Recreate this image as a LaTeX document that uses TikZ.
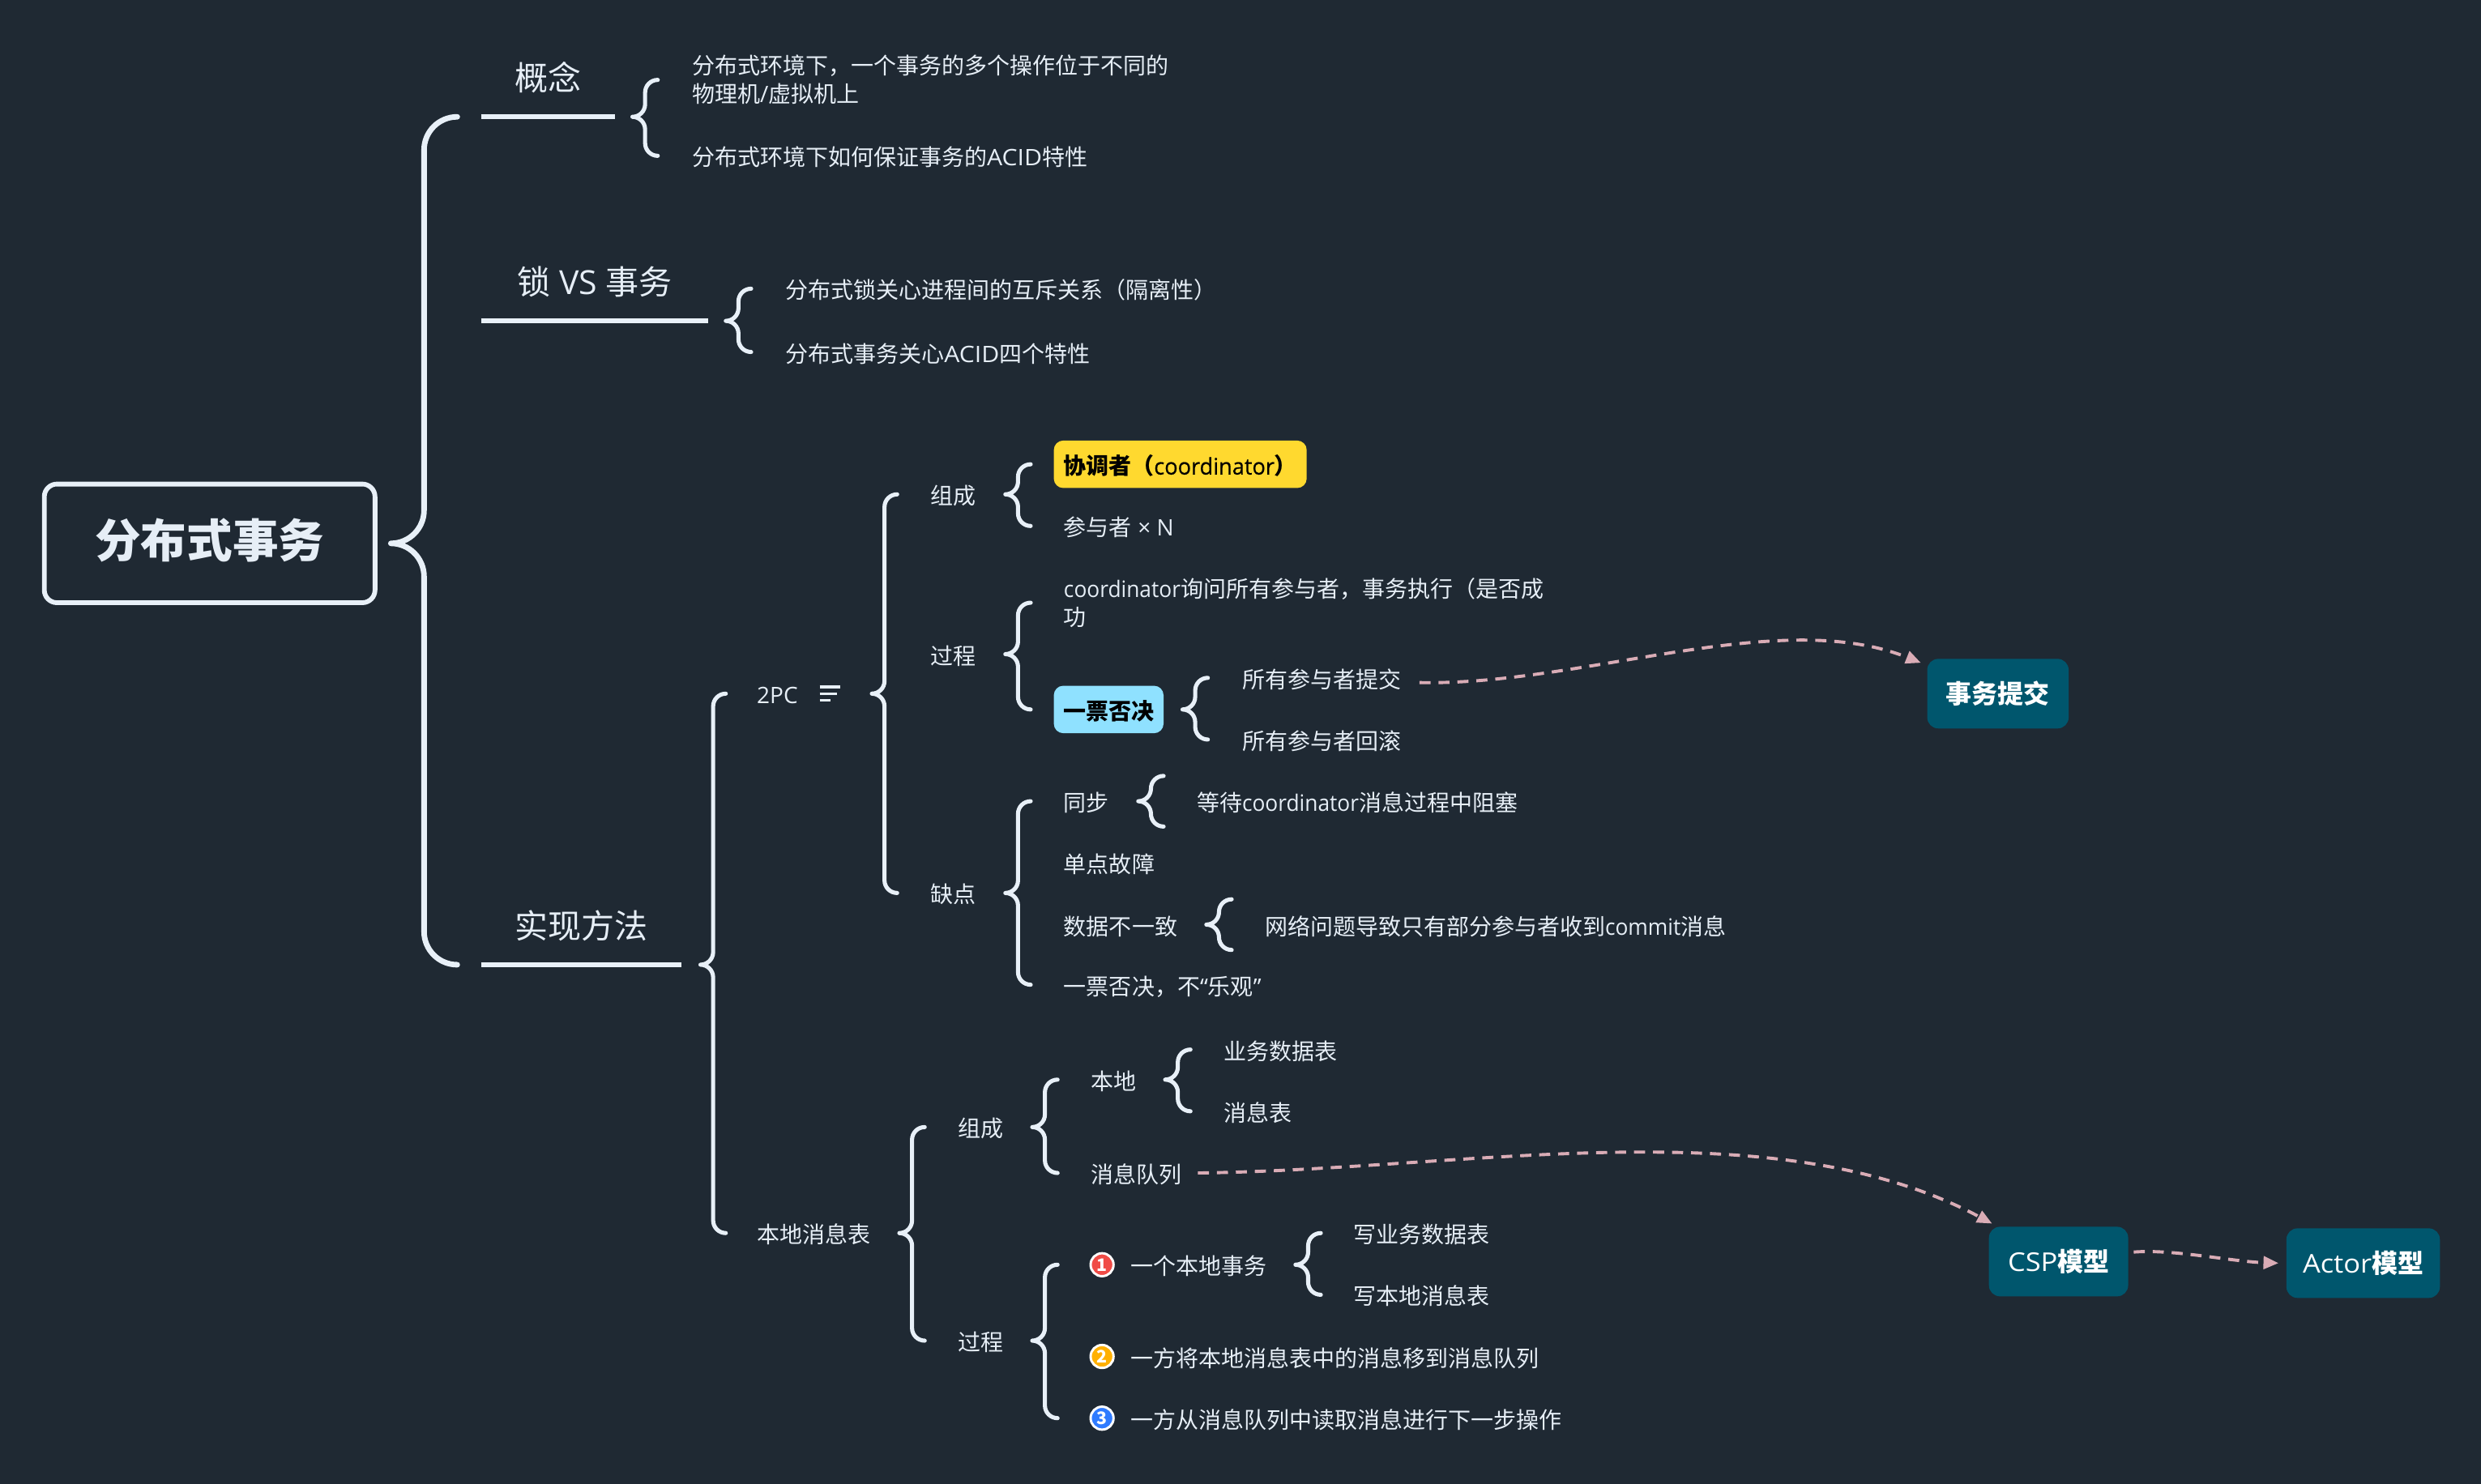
\documentclass[tikz,border=0pt]{standalone}
\usepackage{fontspec}
\usepackage{tikz}
\usetikzlibrary{arrows.meta,positioning,calc}
\setmainfont{Noto Sans CJK SC}
\newfontfamily\latinfont{Open Sans}
\newfontfamily\narrowfont[FakeStretch=0.94]{Open Sans}
\newfontfamily\wideinfont[FakeStretch=1.08]{Open Sans}
\newfontfamily\tagfont[FakeStretch=0.97,FakeBold=0.4]{Open Sans}
\newcommand{\lat}[1]{{\latinfont\mdseries #1}}
\newcommand{\latn}[1]{{\narrowfont\mdseries #1}}
\newcommand{\latw}[1]{{\wideinfont\mdseries #1}}
\definecolor{canvas}{HTML}{1F2933}
\definecolor{lightline}{HTML}{E8F0F8}
\definecolor{lighttext}{HTML}{E6EEF6}
\definecolor{tagyellow}{HTML}{FFD92F}
\definecolor{tagblue}{HTML}{8FE1FF}
\definecolor{modelteal}{HTML}{00566D}
\definecolor{linkpink}{HTML}{D9ACB6}
\definecolor{numred}{HTML}{F04B46}
\definecolor{numorange}{HTML}{FFB000}
\definecolor{numblue}{HTML}{2F7BFF}
\newcommand{\treebrace}[5][]{%
	\draw[bracelink,#1] let \p1=#3,\p2=#4,\p3=#5,\n1={#2*1cm},\n2={#2*0.5cm} in
	({\x1+\n1},\y2) to[out=180,in=90] ({\x1+\n2},{\y2-\n2}) -- ({\x1+\n2},{\y1+\n2})
	to[out=-90,in=0] (\x1,\y1) to[out=0,in=90] ({\x1+\n2},{\y1-\n2}) -- ({\x1+\n2},{\y3+\n2})
	to[out=-90,in=180] ({\x1+\n1},\y3);}
\begin{document}
\begin{tikzpicture}[
			rootbox/.style={draw=lightline,line width=0.06cm,rounded corners=0.16cm,outer sep=0pt,minimum width=4.18cm,minimum height=1.5cm,text=lighttext,text height=0.48cm,text depth=0.11cm,font=\fontsize{16.5}{20}\selectfont\bfseries},
			topic/.style={inner ysep=0pt,inner xsep=0.42cm,minimum height=1.0cm,text height=0.41cm,text depth=0.06cm,text=lighttext,font=\fontsize{11.95}{14}\selectfont},
			topicline/.style={line width=0.06cm,lightline},
			leaf/.style={inner sep=0pt,text height=0.293cm,text depth=0.035cm,text=lighttext,font=\fontsize{8.16}{10.24}\selectfont},
			twolines/.style={align=left,text height=,text depth=},
			tagbox/.style={leaf,text=black,rounded corners=0.12cm,inner xsep=0.12cm,minimum height=0.6cm,outer sep=0pt,font=\fontsize{8.16}{10.24}\selectfont\bfseries},
			modelbox/.style={fill=modelteal,rounded corners=0.14cm,inner ysep=0pt,inner xsep=0.24cm,minimum height=0.88cm,outer sep=0pt,text=white,font=\fontsize{9.3}{11}\selectfont\bfseries},
			numdot/.style={circle,draw=white,line width=0.03cm,minimum size=0.29cm,inner sep=0pt,outer sep=0.015cm,text=white,font=\fontsize{6.2}{7}\selectfont\bfseries},
			bracelink/.style={line width=0.052cm,lightline,line cap=round,line join=round},
			bigbrace/.style={line width=0.07cm},
			iconline/.style={line width=0.035cm,lightline},
			linkarr/.style={-{Triangle[length=0.19cm,width=0.16cm]},line width=0.04cm,linkpink,dash pattern=on 0.14cm off 0.10cm}
			]
			\fill[canvas,use as bounding box] (0,0) rectangle (31.36,-18.76);
			\node[rootbox] (root) at (2.65,-6.87) {分布式事务};
			% first level
			\node[topic] (gn) [right=5.52cm of root.west,yshift=5.9cm] {概念};
			\node[topic,minimum width=2.86cm] (ss) [right=5.52cm of root.west,yshift=3.32cm] {锁\lat{ VS }事务};
			\node[topic] (sx) [right=5.52cm of root.west,yshift=-4.82cm] {实现方法};
			\draw[topicline] (gn.south west) -- (gn.south east);
			\draw[topicline] (ss.south west) -- (ss.south east);
			\draw[topicline] (sx.south west) -- (sx.south east);
			\treebrace[bigbrace]{.84}{([xshift=.2cm]root.east)}{(gn.south west)}{(sx.south west)}
			% concept and lock
			\node[leaf,twolines] (gn1) [right=2.66cm of gn.west,yshift=-0.04cm] {分布式环境下，一个事务的多个操作位于不同的\\物理机\lat{/}虚拟机上};
			\node[leaf] (gn2) [right=2.66cm of gn.west,yshift=-1cm] {分布式环境下如何保证事务的\latw{ACID}特性};
			\treebrace{.32}{([xshift=.22cm]gn.south east)}{(gn1.west)}{(gn2.west)}
			\node[leaf] (ss1) [right=3.84cm of ss.west,yshift=-0.1cm] {分布式锁关心进程间的互斥关系（隔离性）};
			\node[leaf] (ss2) [right=3.84cm of ss.west,yshift=-0.9cm] {分布式事务关心\latw{ACID}四个特性};
			\treebrace{.32}{([xshift=.22cm]ss.south east)}{(ss1.west)}{(ss2.west)}
			% two methods
			\node[leaf] (pc) [right=3.48cm of sx.west,yshift=2.92cm] {\lat{2PC}};
			\node[leaf] (bd) [right=3.48cm of sx.west,yshift=-3.9cm] {本地消息表};
			\treebrace{.32}{([xshift=.24cm]sx.south east)}{(pc.west)}{(bd.west)}
			\coordinate (pcicon) at ([xshift=0.8cm]pc.west);
			\coordinate (pcend) at ([xshift=1.06cm]pc.west);
			\foreach \i/\l in {0/0.26,1/0.22,2/0.14}
				\draw[iconline] ([yshift={(0.085-\i*0.085)*1cm}]pcicon) -- ++(\l,0);
			% 2PC
			\node[leaf] (pczc) [right=2.2cm of pc.west,yshift=2.52cm] {组成};
			\node[leaf] (pcgc) [right=2.2cm of pc.west,yshift=0.5cm] {过程};
			\node[leaf] (pcqd) [right=2.2cm of pc.west,yshift=-2.52cm] {缺点};
			\treebrace{.32}{([xshift=.4cm]pcend)}{(pczc.west)}{(pcqd.west)}
			\node[tagbox,fill=tagyellow] (xtz) [right=1.56cm of pczc.west,yshift=0.38cm] {协调者（{\tagfont\mdseries coordinator}）};
			\node[leaf] (cyz) [right=1.68cm of pczc.west,yshift=-0.4cm] {参与者\lat{ × N}};
			\treebrace{.32}{([xshift=.36cm]pczc.east)}{(xtz.west)}{(cyz.west)}
			\node[leaf,twolines] (xw) [right=1.68cm of pcgc.west,yshift=0.65cm] {\latn{coordinator}询问所有参与者，事务执行（是否成\\功};
			\node[tagbox,fill=tagblue] (ypfj) [right=1.56cm of pcgc.west,yshift=-0.7cm] {一票否决};
			\treebrace{.32}{([xshift=.36cm]pcgc.east)}{(xw.west)}{(ypfj.west)}
			\node[leaf] (ytj) [right=2.38cm of ypfj.west,yshift=0.4cm] {所有参与者提交};
			\node[leaf] (yhg) [right=2.38cm of ypfj.west,yshift=-0.38cm] {所有参与者回滚};
			\treebrace{.32}{([xshift=.24cm]ypfj.east)}{(ytj.west)}{(yhg.west)}
			\node[leaf] (tb) [right=1.68cm of pcqd.west,yshift=1.16cm] {同步};
			\node[leaf] (dd) [right=1.68cm of pcqd.west,yshift=0.38cm] {单点故障};
			\node[leaf] (sj) [right=1.68cm of pcqd.west,yshift=-0.4cm] {数据不一致};
			\node[leaf] (lg) [right=1.68cm of pcqd.west,yshift=-1.16cm] {一票否决，不\lat{“}乐观\lat{”}};
			\treebrace{.32}{([xshift=.36cm]pcqd.east)}{(tb.west)}{(lg.west)}
			\node[leaf] (tb1) [right=1.68cm of tb.west] {等待\latn{coordinator}消息过程中阻塞};
			\treebrace{.32}{([xshift=.36cm]tb.east)}{([yshift=.32cm]tb.west)}{([yshift=-.32cm]tb.west)}
			\node[leaf] (sj1) [right=2.54cm of sj.west] {网络问题导致只有部分参与者收到\latn{commit}消息};
			\treebrace{.32}{([xshift=.36cm]sj.east)}{([yshift=.32cm]sj.west)}{([yshift=-.32cm]sj.west)}
			% local message table
			\node[leaf] (bdzc) [right=2.54cm of bd.west,yshift=1.34cm] {组成};
			\node[leaf] (bdgc) [right=2.54cm of bd.west,yshift=-1.36cm] {过程};
			\treebrace{.32}{([xshift=.36cm]bd.east)}{(bdzc.west)}{(bdgc.west)}
			\node[leaf] (bdi) [right=1.68cm of bdzc.west,yshift=0.6cm] {本地};
			\node[leaf] (xxdl) [right=1.68cm of bdzc.west,yshift=-0.58cm] {消息队列};
			\treebrace{.32}{([xshift=.36cm]bdzc.east)}{(bdi.west)}{(xxdl.west)}
			\node[leaf] (ywb) [right=1.68cm of bdi.west,yshift=0.38cm] {业务数据表};
			\node[leaf] (xxb) [right=1.68cm of bdi.west,yshift=-0.4cm] {消息表};
			\treebrace{.32}{([xshift=.36cm]bdi.east)}{(ywb.west)}{(xxb.west)}
			\node[leaf] (s1) [right=2.18cm of bdgc.west,yshift=0.96cm] {一个本地事务};
			\node[leaf] (s2) [right=2.18cm of bdgc.west,yshift=-0.2cm] {一方将本地消息表中的消息移到消息队列};
			\node[leaf] (s3) [right=2.18cm of bdgc.west,yshift=-0.98cm] {一方从消息队列中读取消息进行下一步操作};
			\node[numdot,fill=numred] (n1) [left=0.19cm of s1.west] {1};
			\node[numdot,fill=numorange] (n2) [left=0.19cm of s2.west] {2};
			\node[numdot,fill=numblue] (n3) [left=0.19cm of s3.west] {3};
			\treebrace{.32}{([xshift=.36cm]bdgc.east)}{(s1.west)}{(s3.west)}
			\node[leaf] (s11) [right=2.82cm of s1.west,yshift=0.4cm] {写业务数据表};
			\node[leaf] (s12) [right=2.82cm of s1.west,yshift=-0.38cm] {写本地消息表};
			\treebrace{.32}{([xshift=.36cm]s1.east)}{(s11.west)}{(s12.west)}
			% floating topics
			\node[modelbox] (swtj) [right=8.66cm of ytj.west,yshift=-0.2cm] {事务提交};
			\node[modelbox,inner xsep=0.18cm,minimum width=1.76cm] (csp) [right=11.36cm of xxdl.west,yshift=-1.12cm] {\latw{CSP}模型};
			\node[modelbox,inner xsep=0.18cm,minimum width=1.94cm] (actor) [right=2cm of csp,yshift=-0.02cm] {\latw{Actor}模型};
			\draw[linkarr] ([xshift=.22cm,yshift=-.06cm]ytj.east) .. controls +(2.08,-.04) and +(-1.8,.72) .. ([xshift=-.08cm,yshift=-.05cm]swtj.north west);
			\draw[linkarr] ([xshift=.2cm]xxdl.east) .. controls +(3.4,.04) and +(-2.78,1.48) .. ([xshift=.04cm,yshift=.04cm]csp.north west);
			\draw[linkarr] ([xshift=.07cm,yshift=.12cm]csp.east) .. controls +(.5,.04) and +(-.6,.02) .. ([xshift=-.1cm]actor.west);
		\end{tikzpicture}
\end{document}
